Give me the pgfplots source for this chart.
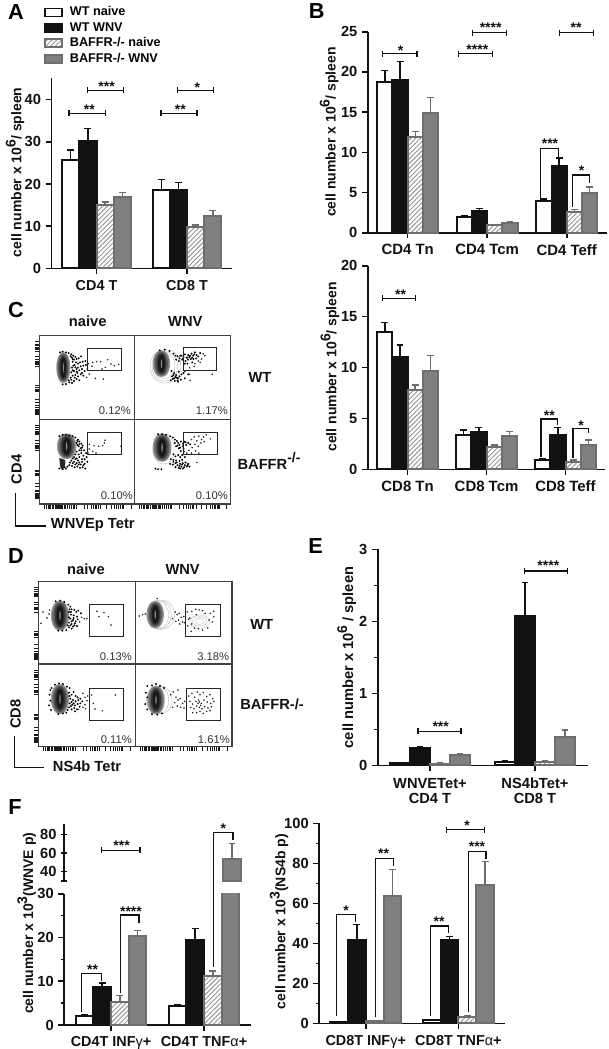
\documentclass[border=0pt]{standalone}
\usepackage{fontspec}
\setmainfont{Liberation Sans}
\usepackage{pgfplots}
\usepackage{pgfplotstable}
\pgfplotsset{compat=1.18}
\usetikzlibrary{patterns.meta}
\newlength\px
\setlength\px{0.75pt}
\definecolor{ink}{HTML}{111111}
\definecolor{bafgray}{HTML}{808080}
\definecolor{bafline}{HTML}{6E6E6E}
\newcommand{\fs}[1]{\fontsize{#1}{#1}\selectfont}
\newcommand{\supr}[1]{\raisebox{0.42em}{\fs{10.5}#1}}

% unit outline for the dense part of the flow plots
\pgfplotstableread{
x y
0.00 -1.00
0.40 -0.94
0.72 -0.72
0.94 -0.38
1.00 0.00
0.94 0.38
0.72 0.72
0.40 0.94
0.00 1.00
-0.40 0.94
-0.72 0.72
-0.94 0.38
-1.00 0.00
-0.94 -0.38
-0.72 -0.72
-0.40 -0.94
0.00 -1.00
}\unitblob

\newcommand{\lev}[6]{\addplot[fill=#6,draw=none,smooth] table[x expr=#1+#3*\thisrow{x},y expr=#2+#4*\thisrow{y}] {\unitblob};}
\newcommand{\blob}[4]{%
  \lev{#1}{#2}{#3}{#4}{}{black!40}
  \lev{#1}{#2}{0.88*#3}{0.94*#4}{}{black!52}
  \lev{#1}{#2}{0.74*#3}{0.87*#4}{}{black!65}
  \lev{#1}{#2}{0.58*#3}{0.78*#4}{}{black!78}
  \lev{#1}{#2}{0.40*#3}{0.66*#4}{}{black!90}
  \addplot[fill=black!45,draw=none,smooth] table[x expr=#1+0.07*#3*\thisrow{x},y expr=#2+0.32*#4*\thisrow{y}] {\unitblob};}
\newcommand{\rring}[4]{\addplot[draw=gray!55,line width=0.3pt,smooth] table[x expr=#1+#3*\thisrow{x},y expr=#2+#4*\thisrow{y}] {\unitblob};}

\pgfplotsset{
  /pgf/number format/assume math mode=true,
  barax/.style={
    scale only axis, ybar=0pt, axis lines=left, enlargelimits=false,
    axis line style={-,line width=1.2pt,ink}, tick style={line width=1.2pt,ink},
    tick align=outside, major tick length=4.2pt, minor tick length=2.5pt,
    every axis y label/.style={rotate=90,anchor=center},
    ticklabel style={font=\bfseries\fs{11},ink}, ylabel style={font=\bfseries\fs{10.5},ink},
    xticklabel style={font=\bfseries\fs{10.8},ink,align=center,yshift=-1pt},
    clip=false, scaled y ticks=false, xtick={0,1},
    error bars/error bar style={line width=1.1pt},
    error bars/error mark options={rotate=90,mark size=2.6pt,line width=1.1pt},
  },
  wn/.style={fill=white,draw=ink,line width=1.5pt,error bars/y dir=plus,error bars/y explicit,
    error bars/error bar style={ink},error bars/error mark options={ink,rotate=90,mark size=2.6pt,line width=1.1pt}},
  wv/.style={fill=ink,draw=ink,line width=1.5pt,error bars/y dir=plus,error bars/y explicit,
    error bars/error bar style={ink},error bars/error mark options={ink,rotate=90,mark size=2.6pt,line width=1.1pt}},
  bn/.style={pattern={Lines[angle=45,distance=2.5pt,line width=0.7pt]},pattern color=gray!85,draw=bafline,line width=1.5pt,error bars/y dir=plus,error bars/y explicit,
    error bars/error bar style={bafline},error bars/error mark options={bafline,rotate=90,mark size=2.6pt,line width=1.1pt}},
  bv/.style={fill=bafgray,draw=bafline,line width=1.5pt,error bars/y dir=plus,error bars/y explicit,
    error bars/error bar style={bafline},error bars/error mark options={bafline,rotate=90,mark size=2.6pt,line width=1.1pt}},
  flow/.style={
    scale only axis, xmin=0,xmax=#1, ymin=0, y dir=reverse, enlargelimits=false,
    axis line style={line width=0.8pt,black!75}, xtick=\empty, ytick=\empty,
    tick align=outside, major tick length=3.4pt, tick style={line width=0.55pt,black!90},
    xticklabels={}, yticklabels={}, ytick pos=left, xtick pos=bottom,
  },
  dots/.style={only marks,mark=*,mark size=0.5pt,black},
  sparse/.style={only marks,mark=*,mark size=0.36pt,black!85},
  lefttk/.style={ytick={18,25,30,35,38,41,46,62,70,78,81,83,85,92,150,155,160,163,167,190,200,210,215,220,223,226,228,230,232,235}},
  bottk/.style={xtick={14,20,26,30,34,38,42,48,52,55,58,60,62,64,66,70,74,78,84,90,96,102,106,110,134,145,155,162,168,172,176,184,200,215,225,232,238,242,248,250,252,275}},
}
\tikzset{
  zm/.style 2 args={x=0.25pt,y=-0.25pt,shift={(#1*0.75pt,-#2*0.75pt)}},
  br/.style={line width=1.15pt,ink},
  star/.style={anchor=base,inner sep=0pt,font=\bfseries\fs{10.5},ink},
  lab/.style={inner sep=0pt,font=\bfseries\fs{11},ink},
  pct/.style={inner sep=0pt,anchor=south east,font=\fs{8.4},black!80},
  letter/.style={inner sep=0pt,font=\bfseries\fs{16.3},black},
  gatebox/.style={line width=0.75pt,black!85},
}
% horizontal bracket with end caps: x1 x2 y
\newcommand{\hb}[3]{\draw[br] (#1,#3) -- (#2,#3) (#1,#3-9) -- (#1,#3+9) (#2,#3-9) -- (#2,#3+9);}
% hanging bracket: x1 x2 y yleft yright
\newcommand{\ub}[5]{\draw[br] (#1,#4) -- (#1,#3) -- (#2,#3) -- (#2,#5);}
% stars: x (centre) y (centre of the glyphs) text
\newcommand{\st}[3]{\node[star] at (#1,#2+24) {#3};}

\begin{document}
\begin{tikzpicture}
\path[use as bounding box] (0,0) rectangle (609\px,-1049\px);

% ---- A
\begin{axis}[barax,at={(51.3\px,-268.3\px)},anchor=south west,width=181\px,height=190.6\px,
  xmin=-0.5,xmax=1.5,ymin=0,ymax=45.2,bar width=17.2\px,ytick={0,10,20,30,40},
  xticklabels={CD4 T,CD8 T},
  ylabel={cell number x 10\supr{6}/ spleen},
  ylabel style={at={(axis description cs:-0.2,0.503)}},
  legend style={at={(axis description cs:-0.04,1.375)},anchor=north west,draw=none,fill=none,
    font=\bfseries\fs{9.5},row sep=2.6pt,inner sep=0pt,
    nodes={inner sep=0pt,text height=7pt,text depth=2pt}},
  legend cell align=left,
  legend image code/.code={\draw[#1,line width=1.4pt] (0pt,-3pt) rectangle (12.5pt,3pt);\path[draw=none,fill=none] (0pt,0pt) -- (18.5pt,0pt);},
]
\addplot[wn] coordinates {(0,25.8) +- (0,2.2) (1,18.6) +- (0,2.4)};
\addplot[wv] coordinates {(0,30.2) +- (0,3) (1,18.5) +- (0,1.9)};
\addplot[bn] coordinates {(0,14.9) +- (0,0.8) (1,9.8) +- (0,0.5)};
\addplot[bv] coordinates {(0,17) +- (0,1) (1,12.3) +- (0,1.4)};
\legend{WT naive,WT WNV,BAFFR-/- naive,BAFFR-/- WNV}
\end{axis}

% ---- B upper
\begin{axis}[barax,at={(367.7\px,-232.7\px)},anchor=south west,width=239\px,height=201\px,
  xmin=-0.503,xmax=2.503,ymin=0,ymax=25,bar width=15.2\px,ytick={0,5,10,15,20,25},xtick={0,1,2},
  xticklabels={CD4 Tn,CD4 Tcm,CD4 Teff},
  xticklabel style={font=\bfseries\fs{11.2}},
  ylabel={cell number x 10\supr{6}/ spleen},
  ylabel style={at={(axis description cs:-0.161,0.501)}},
]
\addplot[wn] coordinates {(0,18.8) +- (0,1.4) (1,2) +- (0,0.1) (2,4) +- (0,0.2)};
\addplot[wv] coordinates {(0,19) +- (0,2.3) (1,2.7) +- (0,0.3) (2,8.3) +- (0,1)};
\addplot[bn] coordinates {(0,11.9) +- (0,0.7) (1,0.9) +- (0,0.1) (2,2.6) +- (0,0.3)};
\addplot[bv] coordinates {(0,14.9) +- (0,1.9) (1,1.25) +- (0,0.1) (2,4.9) +- (0,0.8)};
\end{axis}

% ---- B lower
\begin{axis}[barax,at={(367.7\px,-469.3\px)},anchor=south west,width=237.3\px,height=203.6\px,
  xmin=-0.505,xmax=2.5,ymin=0,ymax=20,bar width=15.2\px,ytick={0,5,10,15,20},xtick={0,1,2},
  xticklabels={CD8 Tn,CD8 Tcm,CD8 Teff},
  xticklabel style={font=\bfseries\fs{11.2}},
  ylabel={cell number x 10\supr{6}/ spleen},
  ylabel style={at={(axis description cs:-0.159,0.503)}},
]
\addplot[wn] coordinates {(0,13.5) +- (0,0.9) (1,3.35) +- (0,0.5) (2,0.9) +- (0,0.15)};
\addplot[wv] coordinates {(0,11) +- (0,1.2) (1,3.65) +- (0,0.45) (2,3.35) +- (0,0.75)};
\addplot[bn] coordinates {(0,7.8) +- (0,0.5) (1,2.2) +- (0,0.2) (2,0.75) +- (0,0.15)};
\addplot[bv] coordinates {(0,9.7) +- (0,1.5) (1,3.25) +- (0,0.45) (2,2.4) +- (0,0.5)};
\end{axis}

% ---- E
\begin{axis}[barax,at={(377.7\px,-765.3\px)},anchor=south west,width=210.6\px,height=216\px,
  xmin=-0.498,xmax=1.508,ymin=0,ymax=3,bar width=20\px,ytick={0,1,2,3},minor y tick num=1,
  xticklabels={{WNVETet+\\CD4 T},{NS4bTet+\\CD8 T}},
  xticklabel style={font=\bfseries\fs{11},yshift=-1pt},
  ylabel={cell number x 10\supr{6} / spleen},ylabel style={font=\bfseries\fs{11},at={(axis description cs:-0.147,0.499)}},
]
\addplot[wn] coordinates {(0,0.03) +- (0,0.01) (1,0.05) +- (0,0.01)};
\addplot[wv] coordinates {(0,0.24) +- (0,0.02) (1,2.07) +- (0,0.47)};
\addplot[bn] coordinates {(0,0.02) +- (0,0.01) (1,0.05) +- (0,0.01)};
\addplot[bv] coordinates {(0,0.14) +- (0,0.02) (1,0.40) +- (0,0.09)};
\end{axis}

% ---- F left, lower part of the broken axis
\begin{axis}[barax,clip=true,at={(64\px,-1025\px)},anchor=south west,width=186.7\px,height=131.3\px,
  xmin=-0.505,xmax=1.502,ymin=0,ymax=30,bar width=17.6\px,ytick={0,10,20,30},minor y tick num=1,
  xticklabels={CD4T INF{\mdseries γ}+,CD4T TNF{\mdseries α}+},
  ylabel={cell number x 10\supr{3}(WNVE p)},
  ylabel style={at={(axis description cs:-0.2,0.775)}},
]
\addplot[wn] coordinates {(0,2) +- (0,0.4) (1,4.3) +- (0,0.3)};
\addplot[wv] coordinates {(0,8.6) +- (0,1) (1,19.4) +- (0,2.7)};
\addplot[bn] coordinates {(0,5.3) +- (0,1.5) (1,11.2) +- (0,1.1)};
\addplot[bv] coordinates {(0,20.3) +- (0,1.3) (1,53) +- (0,0)};
\end{axis}

% ---- F left, upper part
\begin{axis}[barax,at={(64\px,-880.7\px)},anchor=south west,width=186.7\px,height=56.4\px,
  axis x line=none,axis y line=left,y axis line style={-},
  xmin=-0.505,xmax=1.502,ymin=30,ymax=91,bar width=17.6\px,ytick={30,40,60,80},yticklabels={,40,60,80},xtick=\empty,
]
\addplot[bar shift=28\px,bv] coordinates {(1,53) +- (0,17)};
\end{axis}

% ---- F right
\begin{axis}[barax,at={(319\px,-1023.3\px)},anchor=south west,width=186\px,height=200\px,
  xmin=-0.504,xmax=1.503,ymin=0,ymax=100,bar width=17.8\px,ytick={0,20,40,60,80,100},minor y tick num=1,
  xticklabels={CD8T INF{\mdseries γ}+,CD8T TNF{\mdseries α}+},
  ylabel={cell number x 10\supr{3}(NS4b p)},
  ylabel style={at={(axis description cs:-0.215,0.508)}},
]
\addplot[wn] coordinates {(0,0.8) +- (0,0) (1,1.5) +- (0,0.2)};
\addplot[wv] coordinates {(0,41.5) +- (0,7.8) (1,41.5) +- (0,2)};
\addplot[bn] coordinates {(0,1) +- (0,0.2) (1,3.2) +- (0,0.5)};
\addplot[bv] coordinates {(0,63.5) +- (0,13.3) (1,69) +- (0,11.8)};
\end{axis}

% ---- C, flow plots (coordinates: 1/3 px from the frame's top left)
\begin{axis}[flow=286,ymax=251,lefttk,at={(39.3\px,-419.3\px)},anchor=south west,width=95.4\px,height=83.6\px]
\blob{72}{96}{21}{46}
\addplot[dots] coordinates {(62,50)(70,48)(80,50)(88,52)(96,56)(102,60)(108,64)(112,70)(118,68)(125,62)(104,72)(110,80)(116,84)(122,80)(130,78)(102,90)(108,95)(116,96)(124,92)(132,90)(140,88)(146,84)(104,106)(112,108)(120,104)(128,100)(136,106)(144,100)(100,120)(108,118)(116,122)(124,116)(132,120)(96,132)(104,136)(112,130)(120,134)(90,140)(98,142)(80,145)(114,112)(106,126)(98,66)(100,78)(138,76)(128,112)(94,62)(100,70)(106,88)(112,100)(98,96)(96,110)(100,104)(94,126)(88,134)(70,146)};
\addplot[sparse] coordinates {(160,80)(172,78)(158,92)(188,100)(205,72)(215,85)(225,90)(168,128)(192,130)(150,115)(142,125)(184,78)(198,95)(238,86)};
\end{axis}
\begin{axis}[flow=286,ymax=251,at={(134.7\px,-419.3\px)},anchor=south west,width=95.6\px,height=83.6\px]
\rring{92}{92}{46}{50}\rring{90}{92}{38}{44}\rring{88}{90}{32}{38}
\blob{80}{84}{26}{40}
\addplot[dots] coordinates {(75,44)(90,42)(104,46)(116,54)(122,60)(128,62)(134,68)(140,60)(146,64)(150,56)(155,66)(160,58)(164,64)(170,54)(175,60)(180,50)(185,58)(190,62)(196,52)(124,72)(132,76)(142,72)(152,76)(160,72)(168,70)(176,70)(184,68)(150,84)(158,84)(172,80)(110,106)(118,112)(124,118)(132,108)(126,126)(134,122)(140,116)(118,128)(128,134)(112,122)(146,112)(150,128)(160,116)(138,132)(108,134)(120,136)(130,138)(136,60)(144,70)(158,66)(166,60)(172,66)(178,56)(116,118)(122,124)(130,128)(114,130)};
\addplot[sparse] coordinates {(200,70)(190,76)(210,60)(180,84)(164,96)(150,108)(166,134)(164,116)(232,116)(205,54)(196,80)(178,92)};
\end{axis}
\begin{axis}[flow=286,ymax=251,lefttk,bottk,at={(39.3\px,-504\px)},anchor=south west,width=95.4\px,height=84.7\px]
\blob{82}{80}{29}{38}
\addplot[fill=black!85,draw=none,smooth] coordinates {(60,115)(78,122)(74,145)(64,145)(60,115)};
\addplot[dots] coordinates {(60,50)(70,46)(80,46)(90,48)(100,50)(108,54)(116,60)(120,66)(126,72)(130,78)(112,70)(118,80)(124,86)(134,92)(112,96)(118,104)(126,100)(132,108)(140,100)(104,112)(112,116)(120,112)(128,118)(136,118)(142,112)(96,122)(104,126)(112,130)(120,128)(128,126)(136,132)(144,126)(90,136)(98,138)(106,142)(114,140)(122,144)(130,142)(138,146)(80,146)(70,148)(60,146)(116,122)(124,134)(108,118)(132,136)(114,76)(120,92)(126,92)(108,104)(100,116)(92,128)(100,130)(118,134)(108,134)(84,140)(76,142)(114,64)(120,74)(128,84)};
\addplot[sparse] coordinates {(150,88)(160,95)(170,100)(178,80)(195,70)(197,62)(190,78)(245,80)(146,100)(150,74)(164,78)};
\end{axis}
\begin{axis}[flow=286,ymax=251,bottk,at={(134.7\px,-504\px)},anchor=south west,width=95.6\px,height=84.7\px]
\rring{86}{88}{32}{44}
\blob{82}{84}{28}{42}
\addplot[dots] coordinates {(70,44)(82,44)(94,46)(106,50)(114,54)(120,60)(126,64)(130,70)(134,76)(138,66)(144,72)(148,66)(154,76)(160,70)(166,74)(124,80)(132,86)(138,94)(146,88)(116,104)(122,110)(130,106)(136,112)(142,106)(108,118)(116,120)(124,122)(134,124)(142,120)(150,112)(106,132)(114,134)(122,130)(128,136)(136,132)(144,130)(152,128)(160,132)(122,142)(132,144)(140,140)(148,142)(156,140)(62,146)(70,148)(80,148)(164,140)(128,78)(120,70)(136,84)(144,80)(152,68)(126,128)(134,138)(142,134)(150,136)(158,136)(116,126)(144,146)(136,146)};
\addplot[sparse] coordinates {(170,60)(178,52)(186,64)(192,50)(200,60)(206,52)(180,74)(172,84)(190,80)(198,70)(208,66)(162,92)(170,100)(182,94)(156,100)(226,58)(186,128)(148,96)(214,46)(192,100)};
\end{axis}

% ---- D
\begin{axis}[flow=291,ymax=248,lefttk,at={(38.3\px,-664\px)},anchor=south west,width=97\px,height=82.7\px]
\blob{65}{103}{27}{45}
\addplot[dots] coordinates {(52,60)(66,58)(78,62)(90,70)(96,76)(100,84)(108,86)(114,92)(120,88)(128,96)(92,92)(98,100)(106,102)(116,106)(96,112)(104,116)(112,120)(118,114)(92,124)(100,128)(108,132)(116,134)(92,138)(84,146)(72,148)(100,142)(60,148)(88,132)(106,110)(94,84)(100,120)(96,132)(104,136)(110,126)(92,108)(98,92)};
\addplot[sparse] coordinates {(14,92)(8,126)(26,110)(32,98)(34,86)(130,108)(138,112)(146,112)(124,122)(182,106)(197,94)(210,106)(218,131)(176,90)};
\end{axis}
\begin{axis}[flow=291,ymax=248,at={(135.3\px,-664\px)},anchor=south west,width=96.7\px,height=82.7\px]
\rring{76}{100}{42}{44}\rring{72}{100}{36}{42}\rring{68}{100}{32}{41}
\blob{60}{100}{26}{41}
\rring{194}{121}{30}{20}\rring{194}{120}{22}{14}\rring{194}{120}{13}{9}
\addplot[sparse] coordinates {(66,52)(22,100)(30,98)(12,104)(120,92)(126,100)(132,96)(138,108)(146,106)(112,112)(122,120)(130,116)(134,128)(142,122)(156,92)(164,110)(170,90)(182,84)(192,86)(202,88)(210,96)(226,96)(236,106)(232,122)(218,140)(170,128)(178,140)(190,142)(202,146)(160,114)(158,134)(168,150)(222,116)(184,100)(148,124)(236,90)};
\end{axis}
\begin{axis}[flow=291,ymax=248,lefttk,bottk,at={(38.3\px,-746.7\px)},anchor=south west,width=97\px,height=82.7\px]
\blob{65}{105}{27}{45}
\addplot[dots] coordinates {(50,62)(62,58)(74,60)(86,68)(94,72)(36,78)(34,92)(40,72)(92,86)(100,92)(106,84)(112,96)(118,100)(96,104)(104,108)(112,112)(120,108)(126,104)(94,118)(102,122)(110,124)(118,120)(126,118)(132,112)(92,130)(100,136)(108,132)(116,136)(84,146)(74,148)(60,150)(36,110)(32,124)(38,138)(124,128)(110,142)(100,114)(106,118)(98,126)(94,96)(88,138)};
\addplot[sparse] coordinates {(134,88)(140,100)(146,110)(140,122)(134,130)(142,134)(148,96)(160,93)(231,93)(165,118)(170,135)(192,140)(120,136)};
\end{axis}
\begin{axis}[flow=290,ymax=248,bottk,at={(135.3\px,-746.7\px)},anchor=south west,width=96.7\px,height=82.7\px]
\rring{72}{108}{38}{42}\rring{68}{108}{32}{41}
\blob{62}{108}{26}{43}
\addplot[dots] coordinates {(36,66)(50,64)(62,60)(74,66)(86,72)(32,86)(36,100)(30,120)(36,136)(50,150)(66,152)(80,148)};
\addplot[sparse] coordinates {(106,92)(114,84)(122,100)(128,108)(118,116)(134,104)(142,118)(126,126)(136,130)(112,130)(128,78)(148,112)(146,132)(160,96)(170,88)(178,100)(186,84)(194,92)(204,86)(214,98)(224,92)(232,104)(164,112)(172,120)(182,112)(190,108)(198,118)(206,108)(216,114)(226,118)(236,112)(166,130)(176,134)(184,126)(192,130)(200,134)(208,128)(218,132)(228,128)(172,146)(184,146)(194,142)(204,148)(214,142)(224,140)(188,118)(196,124)(192,114)};
\end{axis}

% ---- gates, percentages and flow labels
\begin{scope}[zm={0}{290}]
\draw[gatebox] (262,174) rectangle (363,240);
\draw[gatebox] (549,173) rectangle (650,240);
\node[lab] at (263,95) {naive};
\node[lab] at (556,95) {WNV};
\node[lab] at (780,262) {WT};
\node[lab,anchor=west] at (712,513) {BAFFR\supr{-/-}};
\node[pct] at (393,374) {0.12\%};
\node[pct] at (684,374) {1.17\%};
\node[letter] at (48,60) {C};
\end{scope}
\begin{scope}[zm={0}{410}]
\draw[gatebox] (262,67) rectangle (363,133);
\draw[gatebox] (550,67) rectangle (651,133);
\node[pct] at (399,269) {0.10\%};
\node[pct] at (684,269) {0.10\%};
\node[lab,rotate=90] at (50,178) {CD4};
\draw[line width=1.1pt,ink] (47,250) -- (47,348) -- (138,348);
\node[lab,anchor=west] at (152,345) {WNVEp Tetr};
\end{scope}
\begin{scope}[zm={0}{520}]
\draw[gatebox] (267,253) rectangle (370,349);
\draw[gatebox] (557,253) rectangle (661,349);
\draw[gatebox] (267,504) rectangle (370,600);
\draw[gatebox] (558,504) rectangle (662,600);
\node[lab] at (258,147) {naive};
\node[lab] at (548,147) {WNV};
\node[lab] at (785,312) {WT};
\node[lab,anchor=west] at (720,552) {BAFFR-/-};
\node[pct] at (396,422) {0.13\%};
\node[pct] at (688,422) {3.18\%};
\node[pct] at (396,671) {0.11\%};
\node[pct] at (690,671) {1.61\%};
\node[lab,rotate=90] at (47,582) {CD8};
\draw[line width=1.1pt,ink] (44,648) -- (44,742) -- (133,742);
\node[lab,anchor=west] at (158,740) {NS4b Tetr};
\node[letter] at (48,108) {D};
\end{scope}

% ---- significance brackets
\begin{scope}[zm={0}{0}]
\node[letter] at (48,36) {A};
\hb{207}{316}{340}\st{268}{320}{**}
\hb{262}{371}{271}\st{320}{250}{***}
\hb{483}{591}{340}\st{541}{320}{**}
\hb{532}{641}{271}\st{592}{255}{*}
\end{scope}
\begin{scope}[zm={300}{0}]
\node[letter] at (50,33) {B};
\hb{248}{351}{161}\st{302}{143}{*}
\hb{475}{577}{161}\st{532}{140}{****}
\hb{518}{619}{98}\st{572}{75}{****}
\hb{778}{880}{98}\st{828}{75}{**}
\ub{722}{775}{445}{595}{470}\st{750}{420}{***}
\ub{818}{868}{525}{620}{548}\st{845}{503}{*}
\end{scope}
\begin{scope}[zm={300}{250}]
\hb{247}{347}{145}\st{302}{125}{**}
\ub{723}{772}{507}{620}{525}\st{748}{487}{**}
\ub{819}{866}{535}{625}{550}\st{843}{517}{*}
\end{scope}
\begin{scope}[zm={300}{520}]
\node[letter] at (47,77) {E};
\hb{354}{483}{634}\st{422}{610}{***}
\hb{674}{803}{153}\st{745}{126}{****}
\end{scope}
\begin{scope}[zm={0}{790}]
\node[letter] at (45,50) {F};
\hb{304}{420}{181}\st{365}{157}{***}
\ub{244}{305}{550}{665}{572}\st{278}{528}{**}
\ub{362}{417}{375}{610}{398}\st{393}{355}{****}
\ub{641}{699}{127}{530}{150}\st{670}{105}{*}
\end{scope}
\begin{scope}[zm={300}{790}]
\ub{109}{167}{373}{678}{397}\st{138}{351}{*}
\ub{226}{280}{205}{682}{228}\st{251}{182}{**}
\ub{391}{445}{408}{678}{430}\st{417}{385}{**}
\ub{505}{558}{185}{665}{208}\st{531}{160}{***}
\hb{440}{554}{119}\st{501}{96}{*}
\end{scope}
\end{tikzpicture}
\end{document}
